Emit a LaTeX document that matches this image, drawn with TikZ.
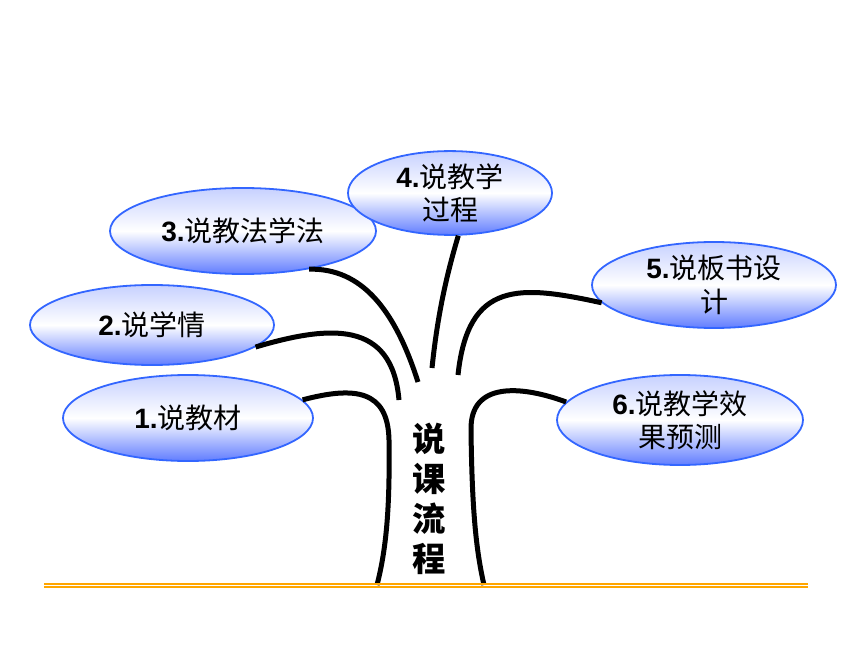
\documentclass[tikz,border=0pt]{standalone}
\usepackage{fontspec}
\setmainfont{Liberation Sans}
\newfontfamily\cjk{Noto Sans CJK SC}
\usetikzlibrary{shapes.geometric}
\newlength{\du}
\setlength{\du}{0.75pt}
\definecolor{ovalline}{rgb}{0.200000, 0.400000, 1.000000}
\definecolor{ovaltop}{rgb}{0.780000, 0.820000, 1.000000}
\definecolor{ovalbottom}{rgb}{0.380000, 0.490000, 1.000000}
\definecolor{groundcolor}{rgb}{1.000000, 0.650000, 0.000000}
\newcommand{\steplabel}[2]{{\bfseries #1.}{\cjk #2}}
\tikzset{
  oval/.style={ellipse, draw=ovalline, line width=1.8\du, top color=ovaltop,
    bottom color=ovalbottom, middle color=white, inner sep=0pt, align=center,
    font=\fontsize{21}{25}\selectfont},
  branch/.style={line width=5\du, draw=black},
}
\begin{document}
\begin{tikzpicture}
\pgftransformxscale{1.000000}
\pgftransformyscale{-1.000000}
\useasboundingbox (0\du,0\du) rectangle (860\du,645\du);
% ovals
\node[oval, minimum width=250\du, minimum height=86\du] (e1) at (188\du,418\du){\steplabel{1}{说教材}};
\node[oval, minimum width=244\du, minimum height=80\du] (e2) at (152\du,325\du){\steplabel{2}{说学情}};
\node[oval, minimum width=266\du, minimum height=86\du] (e3) at (243\du,231\du){\steplabel{3}{说教法学法}};
\node[oval, minimum width=204\du, minimum height=82\du] (e4) at (450\du,193\du){\steplabel{4}{说教学}\\{\cjk 过程}};
\node[oval, minimum width=244\du, minimum height=86\du] (e5) at (714\du,285\du){\steplabel{5}{说板书设}\\{\cjk 计}};
\node[oval, minimum width=246\du, minimum height=90\du] (e6) at (680\du,420\du){\steplabel{6}{说教学效}\\{\cjk 果预测}};
% trunk
\node[align=center, font=\fontsize{25}{30}\selectfont\cjk\bfseries] (trunk) at (429\du,499\du){说\\课\\流\\程};
\coordinate (tl) at (377\du,585\du);
\coordinate (tr) at (484\du,585\du);
\coordinate (gl) at (44\du,584\du);
\coordinate (gr) at (808\du,584\du);
\coordinate (gl2) at (44\du,587\du);
\coordinate (gr2) at (808\du,587\du);
\draw[branch] (e1.9) .. controls (355\du,386\du) and (388\du,390\du) .. (389\du,440\du)
  .. controls (390\du,510\du) and (386\du,550\du) .. (tl);
\draw[branch] (e6.171) .. controls (520\du,385\du) and (470\du,382\du) .. (471\du,430\du)
  .. controls (472\du,510\du) and (476\du,550\du) .. (tr);
\draw[branch] (e2.-12) .. controls (330\du,325\du) and (392\du,320\du) .. (399\du,400\du);
\draw[branch] (e3.-30) .. controls (362\du,268\du) and (395\du,310\du) .. (418\du,382\du);
\draw[branch] (e4.-79) .. controls (445\du,280\du) and (437\du,320\du) .. (432\du,368\du);
\draw[branch] (e5.-171) .. controls (520\du,285\du) and (468\du,280\du) .. (458\du,375\du);
% ground
\draw[groundcolor, line width=1.2\du] (gl) -- (gr);
\draw[groundcolor, line width=2.6\du] (gl2) -- (gr2);
\end{tikzpicture}
\end{document}
